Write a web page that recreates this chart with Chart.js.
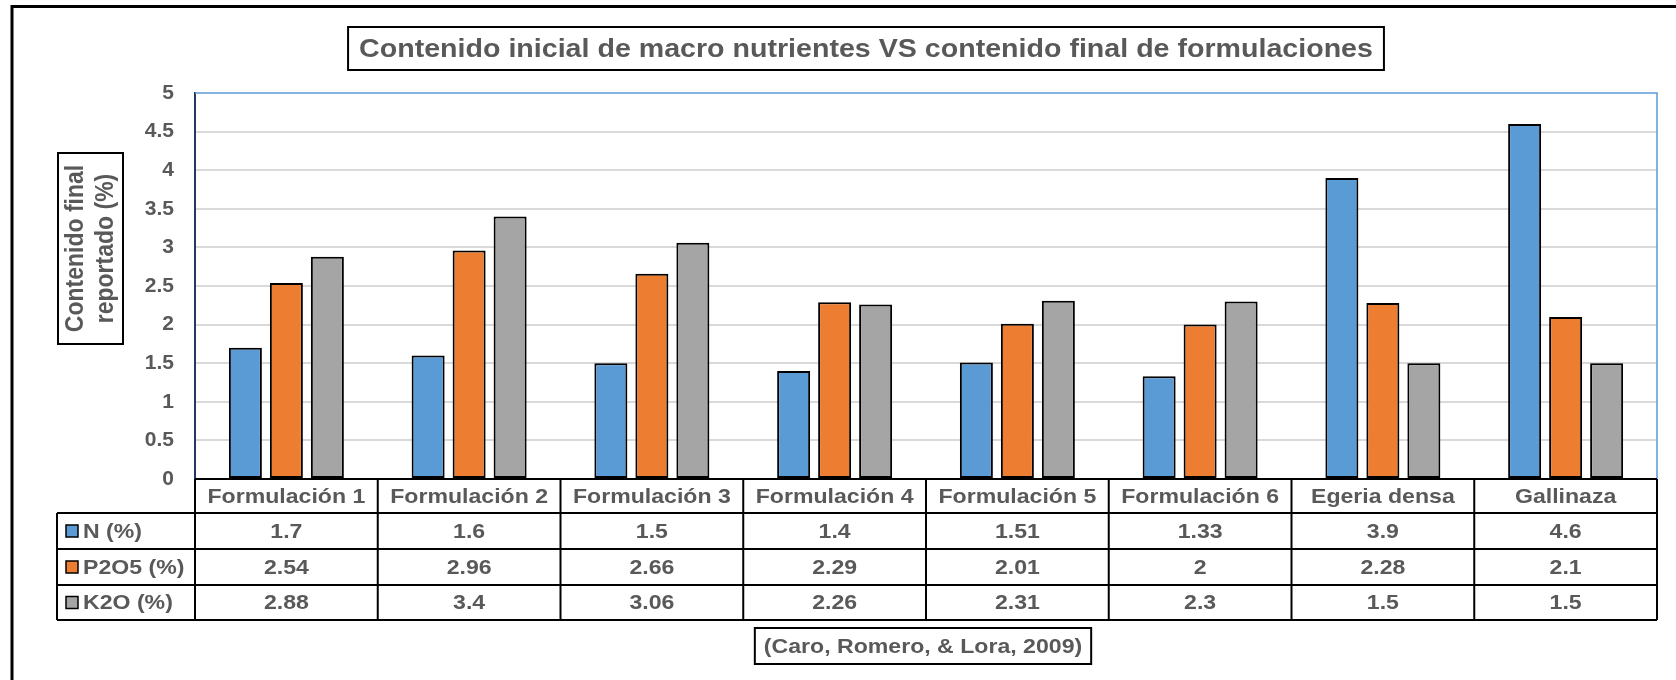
<!DOCTYPE html>
<html lang="es">
<head>
<meta charset="utf-8">
<title>Contenido inicial de macro nutrientes VS contenido final de formulaciones</title>
<script src="https://cdn.jsdelivr.net/npm/chart.js@4.4.1/dist/chart.umd.min.js"></script>
<style>
  html, body { margin: 0; padding: 0; background: #fff; }
  #wrap { width: 1676px; height: 680px; position: relative; }
</style>
</head>
<body>
<div id="wrap"><canvas id="grafico"></canvas></div>
<script>
(function() {
    // --- datos ---
    const categorias = ['Formulación 1', 'Formulación 2', 'Formulación 3', 'Formulación 4',
                        'Formulación 5', 'Formulación 6', 'Egeria densa', 'Gallinaza'];
    const nitrogeno = [1.7, 1.6, 1.5, 1.4, 1.51, 1.33, 3.9, 4.6];
    const fosforo   = [2.54, 2.96, 2.66, 2.29, 2.01, 2, 2.28, 2.1];
    const potasio   = [2.88, 3.4, 3.06, 2.26, 2.31, 2.3, 1.5, 1.5];
    const series    = ['N (%)', 'P2O5 (%)', 'K2O (%)'];
    const titulo    = 'Contenido inicial de macro nutrientes VS contenido final de formulaciones';
    const tituloEje = ['Contenido final', 'reportado (%)'];
    const fuente    = '(Caro, Romero, & Lora, 2009)';

    const colores = ['#5B9BD5', '#ED7D31', '#A5A5A5'];
    const GRIS = '#595959';
    const FONT = '"Liberation Sans", Arial, sans-serif';
    const SX = 1.1; // el original está algo estirado en horizontal

    Chart.defaults.font.family = FONT;
    Chart.defaults.color = GRIS;

    // texto con un leve estiramiento horizontal
    function texto(ctx, str, x, y, align) {
        ctx.save();
        ctx.translate(x, y);
        ctx.scale(SX, 1);
        ctx.textAlign = align || 'center';
        ctx.fillText(str, 0, 0);
        ctx.restore();
    }

    // --- marco, títulos y tabla de datos (estilo Excel) ---
    const decoracion = {
        id: 'decoracion',
        afterDraw(chart) {
            const ctx = chart.ctx;
            const ca = chart.chartArea;
            const x = chart.scales.x;
            const valores = chart.data.datasets.map(d => d.data);
            ctx.save();
            ctx.textBaseline = 'middle';

            // marco exterior (se corta a la derecha y abajo)
            ctx.strokeStyle = '#000';
            ctx.lineWidth = 3;
            ctx.beginPath();
            ctx.moveTo(12, 700);
            ctx.lineTo(12, 6.5);
            ctx.lineTo(1700, 6.5);
            ctx.stroke();

            // borde superior y derecho del área de trazado
            ctx.strokeStyle = '#5B9BD5';
            ctx.lineWidth = 1.5;
            ctx.beginPath();
            ctx.moveTo(ca.left, ca.top);
            ctx.lineTo(ca.right, ca.top);
            ctx.lineTo(ca.right, ca.bottom);
            ctx.stroke();

            // título en recuadro
            ctx.font = 'bold 26px ' + FONT;
            ctx.fillStyle = GRIS;
            const tw = ctx.measureText(titulo).width * SX;
            texto(ctx, titulo, 866, 50);
            ctx.strokeStyle = '#000';
            ctx.lineWidth = 2;
            ctx.strokeRect(866 - tw / 2 - 11, 27, tw + 22, 43);

            // título del eje Y en recuadro
            ctx.strokeRect(58, 153, 65, 191);
            ctx.font = 'bold 23px ' + FONT;
            ctx.save();
            ctx.translate(91, 248.5);
            ctx.rotate(-Math.PI / 2);
            ctx.scale(1, SX);
            ctx.textAlign = 'center';
            ctx.fillText(tituloEje[0], 0, -14);
            ctx.fillText(tituloEje[1], 0, 14);
            ctx.restore();

            // tabla de datos
            const colW = (ca.right - ca.left) / categorias.length;
            const filas = [ca.bottom, 513, 549, 585, 620];
            const izq = 57;

            ctx.lineWidth = 2;
            ctx.strokeStyle = '#000';
            ctx.beginPath();
            ctx.moveTo(ca.left, filas[0]);
            ctx.lineTo(ca.right, filas[0]);
            for (let r = 1; r < filas.length; r++) {
                ctx.moveTo(izq, filas[r]);
                ctx.lineTo(ca.right, filas[r]);
            }
            ctx.moveTo(izq, filas[1]);
            ctx.lineTo(izq, filas[4]);
            for (let c = 0; c <= categorias.length; c++) {
                const px = ca.left + c * colW;
                ctx.moveTo(px, filas[0]);
                ctx.lineTo(px, filas[4]);
            }
            ctx.stroke();

            ctx.font = 'bold 21px ' + FONT;
            ctx.fillStyle = GRIS;
            categorias.forEach((cat, i) => {
                const cx = x.getPixelForValue(i);
                texto(ctx, cat, cx, (filas[0] + filas[1]) / 2 + 1);
                valores.forEach((serie, s) => {
                    texto(ctx, String(serie[i]), cx, (filas[s + 1] + filas[s + 2]) / 2 + 1);
                });
            });

            // leyenda dentro de la tabla
            series.forEach((nombre, s) => {
                const cy = (filas[s + 1] + filas[s + 2]) / 2;
                ctx.fillStyle = colores[s];
                ctx.fillRect(66, cy - 6, 12, 12);
                ctx.lineWidth = 1.5;
                ctx.strokeRect(66, cy - 6, 12, 12);
                ctx.fillStyle = GRIS;
                texto(ctx, nombre, 83, cy + 1, 'left');
            });

            // fuente en recuadro
            const fx = (ca.left + ca.right) / 2 - 3;
            const fw = ctx.measureText(fuente).width * SX;
            texto(ctx, fuente, fx, 647);
            ctx.lineWidth = 2;
            ctx.strokeRect(fx - fw / 2 - 9, 628, fw + 18, 36);

            ctx.restore();
        }
    };

    new Chart(document.getElementById('grafico'), {
        type: 'bar',
        data: {
            labels: categorias,
            datasets: [nitrogeno, fosforo, potasio].map((d, i) => ({
                label: series[i],
                data: d,
                backgroundColor: colores[i],
                borderColor: '#000',
                borderWidth: 2,
                borderSkipped: false,
                barPercentage: 0.805,
                categoryPercentage: 0.673
            }))
        },
        options: {
            responsive: true,
            maintainAspectRatio: false,
            animation: false,
            layout: { padding: { left: 135, top: 93, right: 19, bottom: 201 } },
            plugins: {
                legend: { display: false },
                title: { display: false },
                tooltip: { enabled: false }
            },
            scales: {
                x: { display: false },
                y: {
                    min: 0,
                    max: 5,
                    afterFit: (scale) => { scale.width = 60; },
                    ticks: {
                        stepSize: 0.5,
                        padding: 21,
                        color: GRIS,
                        font: { size: 21, weight: 'bold' },
                        callback: (v) => String(v)
                    },
                    grid: {
                        drawTicks: false,
                        lineWidth: 2,
                        color: (c) => (c.tick && (c.tick.value === 0 || c.tick.value === 5)) ? 'rgba(0,0,0,0)' : '#D9D9D9'
                    },
                    border: { color: '#203864', width: 2 }
                }
            }
        },
        plugins: [decoracion]
    });
})();
</script>
</body>
</html>
